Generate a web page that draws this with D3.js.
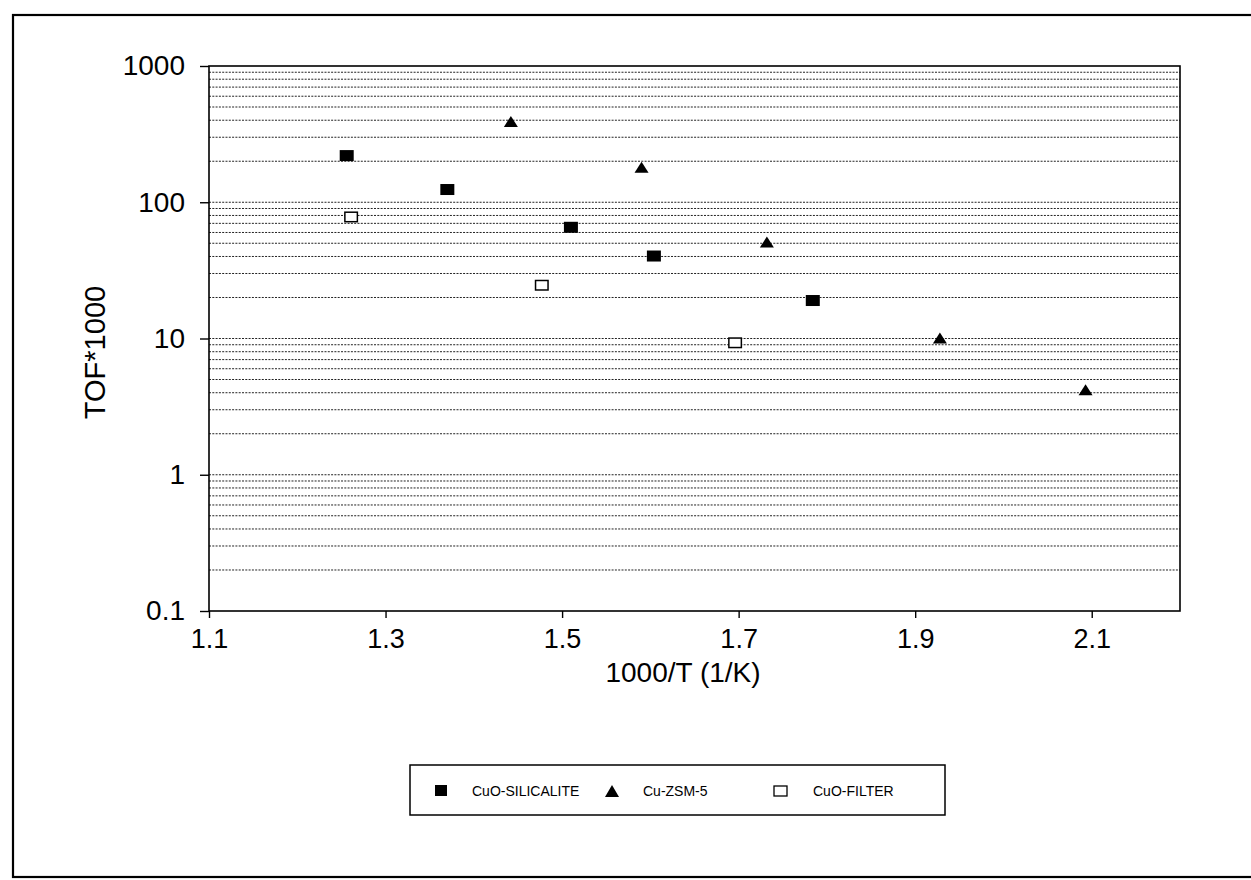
<!DOCTYPE html>
<html>
<head>
<meta charset="utf-8">
<script src="https://cdn.jsdelivr.net/npm/d3@7"></script>
<style>
  html, body { margin: 0; padding: 0; background: #fff; }
  svg { display: block; font-family: "Liberation Sans", Arial, sans-serif; }
</style>
</head>
<body>
<svg id="chart" width="1251" height="880"></svg>
<script>
// Turnover frequency vs inverse temperature for three copper catalysts
const silicaliteX = [1.256, 1.370, 1.510, 1.604, 1.784];
const silicaliteY = [220, 124, 65.5, 40.3, 19.0];
const zsmX = [1.442, 1.590, 1.732, 1.928, 2.093];
const zsmY = [392, 181, 51, 10.1, 4.2];
const filterX = [1.261, 1.477, 1.696];
const filterY = [78, 24.6, 9.3];

const xTicks = [1.1, 1.3, 1.5, 1.7, 1.9, 2.1];
const yTicks = [0.1, 1, 10, 100, 1000];
const seriesNames = ["CuO-SILICALITE", "Cu-ZSM-5", "CuO-FILTER"];

const svg = d3.select("#chart");
const plot = { left: 209, right: 1180, top: 66, bottom: 611 };

const x = d3.scaleLinear().domain([1.1, 2.2]).range([plot.left, plot.right]);
const y = d3.scaleLog().domain([0.1, 1000]).range([plot.bottom, plot.top]);

// outer frame
svg.append("rect")
  .attr("x", 13).attr("y", 15).attr("width", 1250).attr("height", 862)
  .attr("fill", "none").attr("stroke", "#000").attr("stroke-width", 2.2);

// dotted gridlines at every decade and sub-decade value
const gridVals = [];
for (let e = -1; e < 3; e++) {
  for (let m = 1; m <= 9; m++) gridVals.push(m * Math.pow(10, e));
}
svg.append("g").selectAll("line").data(gridVals.filter(v => v > 0.1 + 1e-9)).join("line")
  .attr("x1", plot.left).attr("x2", plot.right)
  .attr("y1", d => y(d)).attr("y2", d => y(d))
  .attr("stroke", "#222").attr("stroke-width", 1)
  .attr("stroke-dasharray", "2,1.3");

// plot border
svg.append("rect")
  .attr("x", plot.left).attr("y", plot.top)
  .attr("width", plot.right - plot.left).attr("height", plot.bottom - plot.top)
  .attr("fill", "none").attr("stroke", "#000").attr("stroke-width", 1.6);

// y axis
const yAxis = d3.axisLeft(y).tickValues(yTicks)
  .tickFormat(d => d3.format("~g")(d)).tickSize(9).tickPadding(15);
const gy = svg.append("g").attr("transform", `translate(${plot.left},0)`).call(yAxis);
gy.select(".domain").remove();
gy.selectAll(".tick line").attr("stroke", "#000").attr("stroke-width", 1.4);
gy.selectAll(".tick text").attr("fill", "#000").style("font-size", "28px");

// x axis
const xAxis = d3.axisBottom(x).tickValues(xTicks)
  .tickFormat(d3.format(".1f")).tickSize(7).tickPadding(11);
const gx = svg.append("g").attr("transform", `translate(0,${plot.bottom})`).call(xAxis);
gx.select(".domain").remove();
gx.selectAll(".tick line").attr("stroke", "#000").attr("stroke-width", 1.4);
gx.selectAll(".tick text").attr("fill", "#000").style("font-size", "27px");

// axis titles
svg.append("text")
  .attr("x", 683).attr("y", 682)
  .attr("text-anchor", "middle").style("font-size", "28px")
  .text("1000/T (1/K)");
svg.append("text")
  .attr("transform", `translate(105,${(plot.top + plot.bottom) / 2 + 14}) rotate(-90)`)
  .attr("text-anchor", "middle").style("font-size", "29px")
  .text("TOF*1000");

// markers
const mw = 14, mh = 11;
const triangle = (cx, cy) =>
  `M${cx - mw / 2},${cy + mh / 2}L${cx + mw / 2},${cy + mh / 2}L${cx},${cy - mh / 2}Z`;

svg.append("g").selectAll("rect")
  .data(d3.zip(silicaliteX, silicaliteY)).join("rect")
  .attr("x", d => x(d[0]) - mw / 2).attr("y", d => y(d[1]) - mh / 2)
  .attr("width", mw).attr("height", mh).attr("fill", "#000");

svg.append("g").selectAll("path")
  .data(d3.zip(zsmX, zsmY)).join("path")
  .attr("d", d => triangle(x(d[0]), y(d[1]))).attr("fill", "#000");

svg.append("g").selectAll("rect")
  .data(d3.zip(filterX, filterY)).join("rect")
  .attr("x", d => x(d[0]) - mw / 2 + 0.75).attr("y", d => y(d[1]) - mh / 2 + 0.75)
  .attr("width", mw - 1.5).attr("height", mh - 1.5)
  .attr("fill", "#fff").attr("stroke", "#000").attr("stroke-width", 1.5);

// legend
const lg = svg.append("g");
lg.append("rect")
  .attr("x", 410).attr("y", 765).attr("width", 535).attr("height", 50)
  .attr("fill", "#fff").attr("stroke", "#000").attr("stroke-width", 1.5);
const legendItems = [
  { name: seriesNames[0], mx: 441, tx: 472, kind: "fill" },
  { name: seriesNames[1], mx: 612, tx: 643, kind: "tri" },
  { name: seriesNames[2], mx: 780, tx: 813, kind: "open" }
];
const ly = 791;
legendItems.forEach(it => {
  if (it.kind === "fill") {
    lg.append("rect").attr("x", it.mx - 6).attr("y", ly - 6).attr("width", 12).attr("height", 11).attr("fill", "#000");
  } else if (it.kind === "tri") {
    lg.append("path").attr("d", `M${it.mx - 7},${ly + 6}L${it.mx + 7},${ly + 6}L${it.mx},${ly - 6}Z`).attr("fill", "#000");
  } else {
    lg.append("rect").attr("x", it.mx - 6).attr("y", ly - 5).attr("width", 13).attr("height", 10)
      .attr("fill", "#fff").attr("stroke", "#000").attr("stroke-width", 1.3);
  }
  lg.append("text").attr("x", it.tx).attr("y", ly + 5)
    .style("font-size", "14px").attr("fill", "#000").text(it.name);
});
</script>
</body>
</html>
